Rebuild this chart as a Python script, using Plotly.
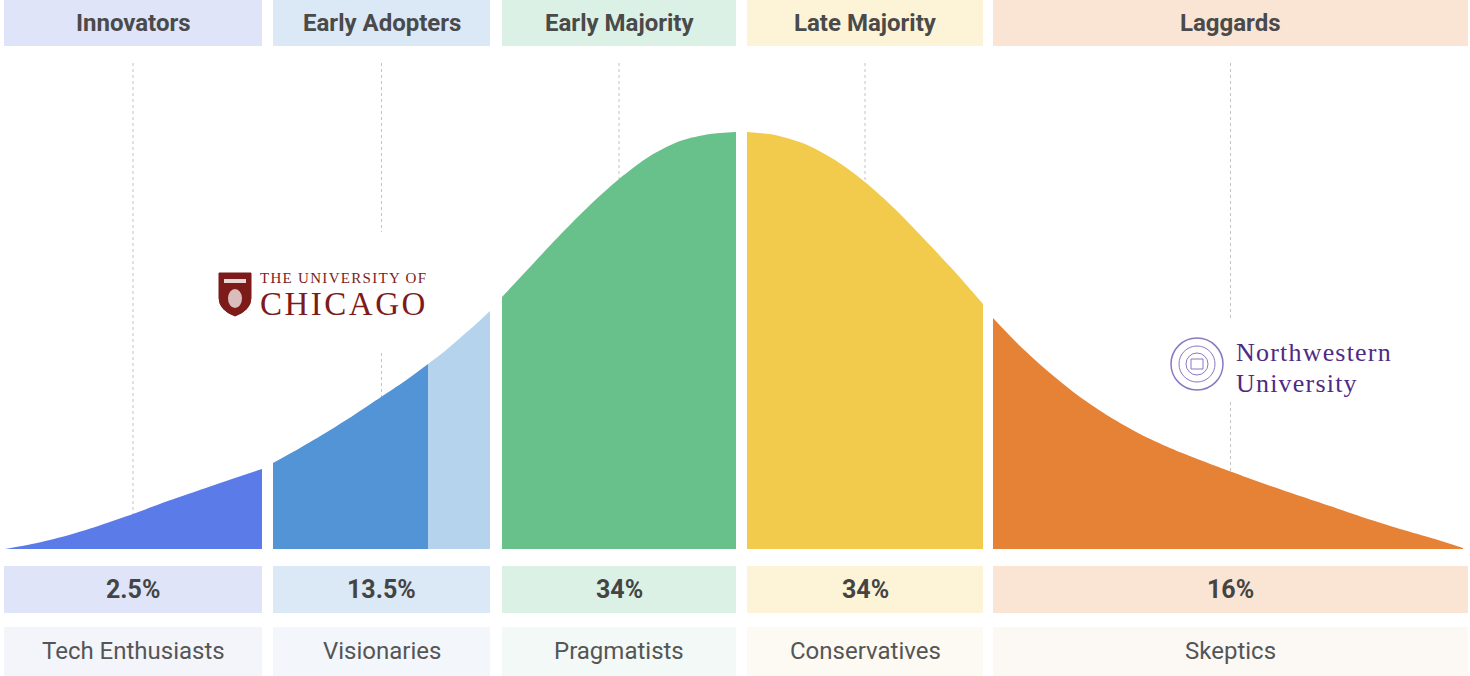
import plotly.graph_objects as go

# ---------------- data ----------------
categories = ["Innovators", "Early Adopters", "Early Majority", "Late Majority", "Laggards"]
shares = ["2.5%", "13.5%", "34%", "34%", "16%"]
personas = ["Tech Enthusiasts", "Visionaries", "Pragmatists", "Conservatives", "Skeptics"]

# column extents along the adoption axis
col_x0 = [4, 273, 502, 747, 993]
col_x1 = [262, 490, 736, 983, 1468]

# curve height samples for each filled region
innov_x = [5, 37, 69, 101, 133, 165, 197, 229, 262]
innov_h = [0, 6, 14, 24, 35, 47, 58, 69, 80]
early_dark_x = [273, 300, 327, 354, 381, 405, 428]
early_dark_h = [86, 101, 117, 134, 152, 168, 185]
early_light_x = [428, 445, 460, 475, 490]
early_light_h = [185, 198, 211, 224, 238]
emaj_x = [502, 530, 560, 590, 619, 650, 680, 710, 736]
emaj_h = [252, 282, 314, 344, 370, 393, 408, 415, 417]
lmaj_x = [747, 775, 805, 835, 865, 895, 925, 955, 983]
lmaj_h = [417, 414, 405, 389, 367, 340, 309, 277, 245]
lag_x = [993, 1020, 1050, 1080, 1110, 1140, 1170, 1200, 1232, 1265, 1300, 1330, 1365, 1400, 1435, 1463]
lag_h = [231, 203, 176, 152, 132, 115, 101, 89, 77, 65, 53, 43, 31, 20, 10, 1]

# guide line end heights (curve height at column centre)
guide_end_h = [35, 152, 370, 367, 77]

# ---------------- styles ----------------
fill_colors = ["#5b7be8", "#5294d6", "#b6d3ee", "#68c08b", "#f2cb4c", "#e58236"]
head_colors = ["#dfe4f8", "#dbe8f6", "#dcf1e6", "#fdf4d8", "#fae5d5"]
label_colors = ["#f3f5fb", "#f3f7fc", "#f3f9f6", "#fdfaf3", "#fcf8f4"]

BASE = 549  # pixel row of curve baseline
H, W = 676, 1470


def py(v):
    """pixel row -> data y"""
    return BASE - v


fig = go.Figure()

regions = [
    (innov_x, innov_h), (early_dark_x, early_dark_h), (early_light_x, early_light_h),
    (emaj_x, emaj_h), (lmaj_x, lmaj_h), (lag_x, lag_h)
]
for (xs, hs), c in zip(regions, fill_colors):
    fig.add_trace(go.Scatter(
        x=xs, y=hs, mode="lines", fill="tozeroy", fillcolor=c,
        line=dict(color=c, width=0, shape="spline", smoothing=0.8),
        hoverinfo="skip", showlegend=False))

shapes = []
annotations = []

for i, cat in enumerate(categories):
    x0, x1 = col_x0[i], col_x1[i]
    xc = (x0 + x1) / 2
    shapes.append(dict(type="rect", xref="x", yref="y", x0=x0, x1=x1, y0=py(46), y1=py(0),
                       fillcolor=head_colors[i], line_width=0, layer="below"))
    shapes.append(dict(type="rect", xref="x", yref="y", x0=x0, x1=x1, y0=py(613), y1=py(566),
                       fillcolor=head_colors[i], line_width=0, layer="below"))
    shapes.append(dict(type="rect", xref="x", yref="y", x0=x0, x1=x1, y0=py(676), y1=py(627),
                       fillcolor=label_colors[i], line_width=0, layer="below"))
    annotations.append(dict(x=xc, y=py(23), text=cat, showarrow=False, xref="x", yref="y",
                            font=dict(family="Roboto", size=24, color="#4a4a4a", weight=700)))
    annotations.append(dict(x=xc, y=py(589), text=shares[i], showarrow=False, xref="x", yref="y",
                            font=dict(family="Roboto", size=25, color="#444444", weight=700)))
    annotations.append(dict(x=xc, y=py(651), text=personas[i], showarrow=False, xref="x", yref="y",
                            font=dict(family="Roboto", size=24, color="#555555")))

    top = py(63)
    end = guide_end_h[i]
    if cat == "Early Adopters":
        segs = [(top, py(232)), (py(353), end)]
    elif cat == "Laggards":
        segs = [(top, py(320)), (py(402), end)]
    else:
        segs = [(top, end)]
    for ya, yb in segs:
        shapes.append(dict(type="line", xref="x", yref="y", x0=xc, x1=xc, y0=ya, y1=yb,
                           line=dict(color="#c4c4c4", width=1, dash="dot"), layer="below"))

# ---------------- University of Chicago mark ----------------
maroon = "#7d1a1a"
shield = (f"M 219,{py(273)} L 251,{py(273)} L 251,{py(298)} "
          f"Q 251,{py(310)} 235,{py(316)} Q 219,{py(310)} 219,{py(298)} Z")
shapes.append(dict(type="path", path=shield, xref="x", yref="y", fillcolor=maroon,
                   line=dict(color=maroon, width=1)))
shapes.append(dict(type="rect", xref="x", yref="y", x0=224, x1=246, y0=py(283), y1=py(279),
                   fillcolor="#e9d6d6", line_width=0))
shapes.append(dict(type="circle", xref="x", yref="y", x0=228, x1=242, y0=py(308), y1=py(289),
                   fillcolor="#ead9d9", line_width=0, opacity=0.85))
annotations.append(dict(
    x=258, y=py(296), xanchor="left", yanchor="middle", align="left", showarrow=False,
    xref="x", yref="y",
    text=("<span style='font-size:15px;letter-spacing:1.3px'>THE UNIVERSITY OF</span><br>"
          "<span style='font-size:33px;letter-spacing:2.5px'>CHICAGO</span>"),
    font=dict(family="Liberation Serif", size=24.5, color=maroon)))

# ---------------- Northwestern mark ----------------
purple = "#4e2a84"
seal = "#8a79c0"
cx, cy = 1197, 364
for r, w in [(26, 1.5), (18, 1), (11, 1)]:
    shapes.append(dict(type="circle", xref="x", yref="y", x0=cx - r, x1=cx + r,
                       y0=py(cy + r), y1=py(cy - r),
                       line=dict(color=seal, width=w), fillcolor="rgba(0,0,0,0)"))
shapes.append(dict(type="rect", xref="x", yref="y", x0=cx - 6, x1=cx + 6, y0=py(cy + 5), y1=py(cy - 5),
                   line=dict(color=seal, width=1), fillcolor="rgba(0,0,0,0)"))
annotations.append(dict(
    x=1234, y=py(368), xanchor="left", yanchor="middle", align="left", showarrow=False,
    xref="x", yref="y",
    text=("<span style='font-size:26px;letter-spacing:1.2px'>Northwestern</span><br>"
          "<span style='font-size:26px;letter-spacing:1.2px'>University</span>"),
    font=dict(family="Liberation Serif", size=23.5, color=purple)))

fig.update_layout(
    width=W, height=H,
    margin=dict(l=0, r=0, t=0, b=0),
    paper_bgcolor="white", plot_bgcolor="white",
    xaxis=dict(range=[0, W], visible=False, fixedrange=True),
    yaxis=dict(range=[py(H), py(0)], visible=False, fixedrange=True),
    shapes=shapes, annotations=annotations, showlegend=False,
)

fig.write_html("out.html", config={"displayModeBar": False},
               post_script="document.body.style.margin='0';document.body.style.overflow='hidden';")
